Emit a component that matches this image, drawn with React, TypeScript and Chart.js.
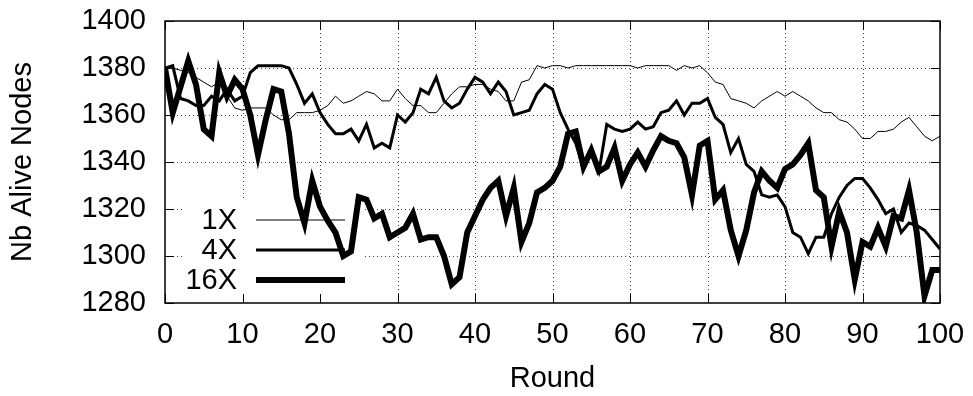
import React, { useEffect, useRef } from 'react';
import { Chart, registerables } from 'chart.js';

Chart.register(...registerables);

// Round index on the x axis
const rounds = Array.from({ length: 101 }, (_, i) => i);

// Alive node counts per round for each replication factor
const nodes1X = [
  1380, 1380, 1379, 1378, 1376, 1374, 1372, 1374, 1368, 1363,
  1362, 1363, 1363, 1363, 1360, 1358, 1358, 1361, 1361, 1361,
  1362, 1364, 1368, 1365, 1366, 1368, 1370, 1369, 1366, 1366,
  1371, 1367, 1364, 1364, 1361, 1361, 1365, 1369, 1372, 1372,
  1373, 1373, 1371, 1370, 1366, 1366, 1374, 1375, 1381, 1380,
  1381, 1381, 1380, 1381, 1381, 1381, 1381, 1381, 1381, 1381,
  1381, 1380, 1381, 1381, 1381, 1381, 1379, 1381, 1380, 1381,
  1378, 1374, 1373, 1367, 1366, 1365, 1363, 1366, 1368, 1370,
  1368, 1370, 1368, 1366, 1363, 1361, 1361, 1358, 1357, 1354,
  1350, 1350, 1353, 1353, 1354, 1357, 1359, 1355, 1351, 1349,
  1351,
];

const nodes4X = [
  1380, 1381, 1367, 1366, 1364, 1364, 1368, 1366, 1371, 1366,
  1368, 1378, 1381, 1381, 1381, 1381, 1380, 1373, 1365, 1369,
  1361, 1356, 1352, 1352, 1354, 1349, 1356, 1346, 1348, 1346,
  1360, 1357, 1361, 1371, 1369, 1376, 1366, 1363, 1365, 1371,
  1376, 1374, 1369, 1374, 1370, 1360, 1361, 1362, 1369, 1373,
  1371, 1361, 1354, 1348, 1337, 1345, 1336, 1356, 1354, 1353,
  1354, 1357, 1354, 1355, 1361, 1362, 1366, 1360, 1365, 1365,
  1367, 1359, 1356, 1344, 1350, 1339, 1336, 1326, 1325, 1326,
  1321, 1310, 1308, 1301, 1308, 1308, 1318, 1325, 1330, 1333,
  1333, 1329, 1324, 1318, 1320, 1310, 1314, 1313, 1311, 1307,
  1303,
];

const nodes16X = [
  1380, 1361, 1372, 1383, 1373, 1354, 1351, 1378, 1368, 1375,
  1371, 1360, 1343, 1358, 1371, 1370, 1352, 1325, 1314, 1332,
  1321, 1315, 1310, 1300, 1302, 1325, 1324, 1316, 1318, 1308,
  1310, 1312, 1318, 1307, 1308, 1308, 1300, 1288, 1291, 1310,
  1317, 1324, 1329, 1332, 1317, 1329, 1306, 1314, 1327, 1329,
  1332, 1338, 1352, 1353, 1338, 1345, 1336, 1338, 1346, 1332,
  1339, 1344, 1338, 1345, 1351, 1349, 1348, 1342, 1326, 1347,
  1349, 1324, 1328, 1311, 1300, 1311, 1327, 1336, 1332, 1329,
  1337, 1339, 1343, 1348, 1328, 1325, 1304, 1319, 1310, 1290,
  1306, 1304, 1312, 1304, 1317, 1316, 1328, 1310, 1283, 1294,
  1294,
];

const seriesNames = ['1X', '4X', '16X'];
const seriesData = [nodes1X, nodes4X, nodes16X];
const seriesWidths = [1, 3, 6];

const xTitle = 'Round';
const yTitle = 'Nb Alive Nodes';

const FONT_FAMILY = '"Liberation Sans", Arial, Helvetica, sans-serif';
const FONT_SIZE = 29;

// Dotted grid, key background, frame and inward tick marks (gnuplot style)
const framePlugin = {
  id: 'gnuplotFrame',
  beforeDatasetsDraw(chart: any) {
    const { ctx, chartArea: a, scales } = chart;
    const xs = scales.x;
    const ys = scales.y;
    ctx.save();

    // dotted grid
    ctx.strokeStyle = 'rgba(0,0,0,0.75)';
    ctx.lineWidth = 1;
    ctx.setLineDash([1, 3]);
    xs.ticks.forEach((t: any) => {
      const px = Math.round(xs.getPixelForValue(t.value)) + 0.5;
      if (px <= a.left + 1 || px >= a.right - 1) return;
      ctx.beginPath();
      ctx.moveTo(px, a.top);
      ctx.lineTo(px, a.bottom);
      ctx.stroke();
    });
    ys.ticks.forEach((t: any) => {
      const py = Math.round(ys.getPixelForValue(t.value)) + 0.5;
      if (py <= a.top + 1 || py >= a.bottom - 1) return;
      ctx.beginPath();
      ctx.moveTo(a.left, py);
      ctx.lineTo(a.right, py);
      ctx.stroke();
    });
    ctx.setLineDash([]);

    // opaque key background
    ctx.fillStyle = '#ffffff';
    ctx.fillRect(a.left + 20, a.top + 177, 177, a.bottom - a.top - 178);

    // frame
    ctx.strokeStyle = '#000';
    ctx.lineWidth = 1.5;
    ctx.strokeRect(a.left, a.top, a.right - a.left, a.bottom - a.top);

    // inward ticks on all four sides
    const tl = 9;
    ctx.lineWidth = 1;
    xs.ticks.forEach((t: any) => {
      const px = Math.round(xs.getPixelForValue(t.value)) + 0.5;
      ctx.beginPath();
      ctx.moveTo(px, a.bottom);
      ctx.lineTo(px, a.bottom - tl);
      ctx.moveTo(px, a.top);
      ctx.lineTo(px, a.top + tl);
      ctx.stroke();
    });
    ys.ticks.forEach((t: any) => {
      const py = Math.round(ys.getPixelForValue(t.value)) + 0.5;
      ctx.beginPath();
      ctx.moveTo(a.left, py);
      ctx.lineTo(a.left + tl, py);
      ctx.moveTo(a.right, py);
      ctx.lineTo(a.right - tl, py);
      ctx.stroke();
    });
    ctx.restore();
  },
  afterDatasetsDraw(chart: any) {
    // key: right-aligned labels followed by line samples
    const { ctx, chartArea: a } = chart;
    ctx.save();
    ctx.font = `${FONT_SIZE}px ${FONT_FAMILY}`;
    ctx.fillStyle = '#000';
    ctx.textAlign = 'right';
    ctx.textBaseline = 'middle';
    const rowY = [a.top + 199, a.top + 229, a.top + 259];
    seriesNames.forEach((name, i) => {
      const y = rowY[i];
      ctx.fillText(name, a.left + 72, y + 1);
      ctx.strokeStyle = '#000';
      ctx.lineWidth = seriesWidths[i];
      ctx.beginPath();
      ctx.moveTo(a.left + 91, y);
      ctx.lineTo(a.left + 180, y);
      ctx.stroke();
    });
    ctx.restore();
  },
};

const plainNumber = (v: any) => String(v);

export default function App() {
  const canvasRef = useRef<HTMLCanvasElement | null>(null);

  useEffect(() => {
    const canvas = canvasRef.current;
    if (!canvas) return;
    const font = { family: FONT_FAMILY, size: FONT_SIZE };

    const chart = new Chart(canvas, {
      type: 'line',
      data: {
        labels: rounds,
        datasets: seriesNames.map((name, i) => ({
          label: name,
          data: rounds.map((r, j) => ({ x: r, y: seriesData[i][j] })),
          borderColor: '#000',
          backgroundColor: '#000',
          borderWidth: seriesWidths[i],
          borderJoinStyle: 'miter' as const,
          borderCapStyle: 'butt' as const,
          pointRadius: 0,
          tension: 0,
          fill: false,
          order: 2 - i,
        })),
      },
      options: {
        responsive: false,
        animation: false,
        devicePixelRatio: 1,
        layout: { padding: { left: 0, right: 33, top: 21, bottom: 0 } },
        plugins: {
          legend: { display: false },
          tooltip: { enabled: false },
        },
        scales: {
          x: {
            type: 'linear',
            min: 0,
            max: 100,
            ticks: { stepSize: 10, color: '#000', font, padding: 15, maxRotation: 0, callback: plainNumber },
            grid: { display: false, drawTicks: false },
            border: { display: false },
            title: {
              display: true,
              text: xTitle,
              color: '#000',
              font,
              padding: { top: 0, bottom: 0 },
            },
            afterFit: (s: any) => {
              s.height = 93;
              s.paddingLeft = 0;
              s.paddingRight = 0;
            },
          },
          y: {
            type: 'linear',
            min: 1280,
            max: 1400,
            ticks: { stepSize: 20, color: '#000', font, padding: 19, callback: plainNumber },
            grid: { display: false, drawTicks: false },
            border: { display: false },
            title: {
              display: true,
              text: yTitle,
              color: '#000',
              font,
              padding: { top: 6, bottom: 0 },
            },
            afterFit: (s: any) => {
              s.width = 165;
              s.paddingTop = 0;
              s.paddingBottom = 0;
            },
          },
        },
      },
      plugins: [framePlugin],
    });

    return () => chart.destroy();
  }, []);

  return (
    <div style={{ position: 'absolute', left: 0, top: 0, width: 973, height: 396, background: '#fff' }}>
      <canvas ref={canvasRef} width={973} height={396} style={{ display: 'block' }} />
    </div>
  );
}
